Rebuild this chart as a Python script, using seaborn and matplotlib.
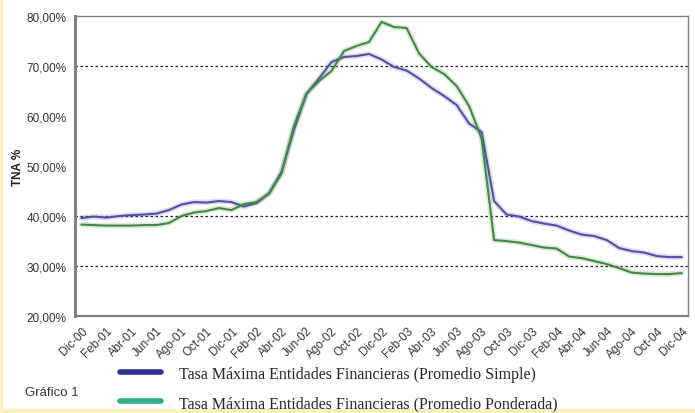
import matplotlib
matplotlib.use("Agg")
import matplotlib.pyplot as plt
import matplotlib.patheffects as pe
from matplotlib.lines import Line2D
from matplotlib.ticker import FixedLocator, FuncFormatter
import seaborn as sns
import pandas as pd

# monthly labels Dic-00 .. Dic-04
month_abbr = ["Ene", "Feb", "Mar", "Abr", "May", "Jun",
              "Jul", "Ago", "Sep", "Oct", "Nov", "Dic"]
months = ["Dic-00"] + [f"{m}-{y:02d}" for y in range(1, 5) for m in month_abbr]

# TNA % - promedio simple
simple = [39.6, 39.9, 39.7, 40.0, 40.2, 40.3, 40.5, 41.2, 42.3, 42.8,
          42.7, 43.0, 42.8, 41.9, 42.6, 44.5, 48.8, 57.3, 64.4, 67.5,
          70.8, 71.8, 72.0, 72.4, 71.3, 69.8, 69.1, 67.5, 65.6, 64.0,
          62.2, 58.5, 56.8, 43.0, 40.3, 39.9, 39.0, 38.5, 38.1, 37.1,
          36.3, 36.0, 35.2, 33.6, 33.0, 32.7, 32.0, 31.8, 31.8]

# TNA % - promedio ponderado
ponderada = [38.3, 38.2, 38.1, 38.1, 38.1, 38.2, 38.2, 38.6, 40.0, 40.7,
             41.0, 41.6, 41.2, 42.4, 42.8, 44.5, 48.5, 58.0, 64.5, 67.0,
             69.0, 73.0, 74.0, 74.8, 78.8, 77.8, 77.6, 72.5, 69.8, 68.4,
             66.0, 62.0, 55.5, 35.2, 35.0, 34.7, 34.2, 33.7, 33.5, 31.9,
             31.6, 31.0, 30.4, 29.6, 28.7, 28.5, 28.4, 28.4, 28.6]

series_names = ["Tasa Máxima Entidades Financieras (Promedio Simple)",
                "Tasa Máxima Entidades Financieras (Promedio Ponderada)"]
line_colors = ["#5050aa", "#3f8a3f"]
legend_colors = ["#2e3192", "#2bb08a"]
grid_levels = [30, 40, 70]

df = pd.DataFrame({
    "idx": list(range(len(months))) * 2,
    "valor": simple + ponderada,
    "serie": [series_names[0]] * len(months) + [series_names[1]] * len(months),
})

sns.set_style("white")
plt.rcParams["font.family"] = ["Liberation Sans", "DejaVu Sans"]

fig = plt.figure(figsize=(6.95, 4.14), dpi=100)
ax = fig.add_axes([0.108, 0.234, 0.882, 0.725])

sns.lineplot(data=df, x="idx", y="valor", hue="serie", palette=line_colors,
             linewidth=1.5, legend=False, ax=ax)
for ln, c in zip(ax.lines, line_colors):
    ln.set_path_effects([pe.Stroke(linewidth=4, foreground=c, alpha=0.18),
                         pe.Normal()])

for g in grid_levels:
    ax.axhline(g, color="#222222", lw=0.9, ls=(0, (2, 2)), zorder=0)

ax.set_xlim(-0.5, len(months) - 0.5)
ax.set_ylim(20, 80)
ax.set_yticks(range(20, 81, 10))
ax.yaxis.set_major_formatter(FuncFormatter(lambda v, p: f"{v:.2f}%".replace(".", ",")))
ax.set_xticks(range(0, len(months), 2))
ax.set_xticklabels(months[::2], rotation=45, ha="right", rotation_mode="anchor")
ax.xaxis.set_minor_locator(FixedLocator([i - 0.5 for i in range(len(months) + 1)]))
ax.tick_params(axis="x", which="major", length=0, pad=6, labelsize=8.5, labelcolor="#333333")
ax.tick_params(axis="x", which="minor", length=4, width=1, color="#808080", direction="out")
ax.tick_params(axis="y", length=4, width=1, color="#808080", direction="out",
               labelsize=8.5, labelcolor="#333333", pad=2)
ax.set_xlabel("")
ax.set_ylabel("TNA %", fontsize=8.5, fontweight="bold", color="#222222")
ax.yaxis.set_label_coords(-0.084, 0.5)

for side, lw in [("left", 2.2), ("bottom", 1.6), ("top", 1.0), ("right", 1.0)]:
    ax.spines[side].set_visible(True)
    ax.spines[side].set_color("#808080")
    ax.spines[side].set_linewidth(lw)

handles = [Line2D([], [], color=c, lw=4) for c in legend_colors]
fig.legend(handles, series_names, loc="upper left", bbox_to_anchor=(0.161, 0.134),
           frameon=False, handlelength=2.6, handletextpad=1.1, labelspacing=0.85,
           prop={"family": "Liberation Serif", "size": 11.5}, borderpad=0)

fig.text(0.036, 0.05, "Gráfico 1", fontsize=9.5, color="#333333", va="center")

# pale yellow page edge
fig.add_artist(Line2D([0.002, 0.002], [0, 1], color="#fbefc0", lw=2.5, transform=fig.transFigure))
fig.add_artist(Line2D([0, 1], [0.004, 0.004], color="#fbefc0", lw=3, transform=fig.transFigure))

fig.savefig("out.png", dpi=100)
